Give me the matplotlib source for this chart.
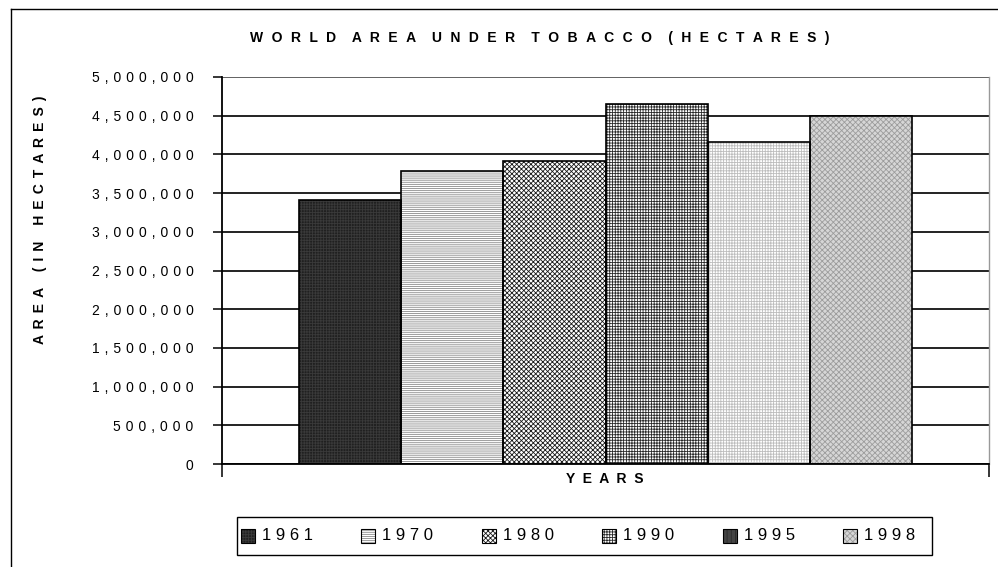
import matplotlib
matplotlib.use("Agg")
import matplotlib.pyplot as plt
from matplotlib.patches import Rectangle
from matplotlib.lines import Line2D

# ---- data -------------------------------------------------------------
years = ["1961", "1970", "1980", "1990", "1995", "1998"]
area_ha = [3410000, 3790000, 3920000, 4655000, 4165000, 4500000]
y_ticks = [0, 500000, 1000000, 1500000, 2000000, 2500000,
           3000000, 3500000, 4000000, 4500000, 5000000]
y_tick_labels = ["0", "500,000", "1,000,000", "1,500,000", "2,000,000",
                 "2,500,000", "3,000,000", "3,500,000", "4,000,000",
                 "4,500,000", "5,000,000"]
title = "WORLD AREA UNDER TOBACCO (HECTARES)"
y_label = "AREA (IN HECTARES)"
x_label = "YEARS"

# ---- styles: (face colour, hatch, hatch colour) ----------------------
bar_styles = [
    ("#202020", "++++++", "#3a3a3a"),
    ("#ffffff", "--------", "#8a8a8a"),
    ("#ffffff", "xxxxxxx", "#1a1a1a"),
    ("#ffffff", "++++++", "#2a2a2a"),
    ("#ffffff", "++++++", "#bdbdbd"),
    ("#d6d6d6", "xxxxxx", "#9c9c9c"),
]
legend_styles = list(bar_styles)
legend_styles[4] = ("#444444", "||||", "#2a2a2a")

FONT = ["Liberation Sans", "DejaVu Sans"]
plt.rcParams["font.family"] = FONT
plt.rcParams["hatch.linewidth"] = 0.6

W, H = 998, 567
fig = plt.figure(figsize=(W / 100, H / 100), dpi=100)


def fx(x):
    return x / W


def fy(y):
    return 1 - y / H


def spaced(s, gap=" ", word_gap=None):
    """Letter-space a string; words are separated by word_gap."""
    if word_gap is None:
        return gap.join(s)
    return word_gap.join(gap.join(word) for word in s.split(" "))


# letter-spacing gaps
TRACK = " \u2006"
TRACK_NUM = " \u200a"
TRACK_WIDE = " \u2004"

# ---- outer chart frame ------------------------------------------------
fig.add_artist(Line2D([fx(10.5), fx(10.5)], [fy(8.5), 0], color="black",
                      lw=1.0, transform=fig.transFigure))
fig.add_artist(Line2D([fx(10.5), 1], [fy(8.5), fy(8.5)], color="black",
                      lw=1.0, transform=fig.transFigure))

# ---- plot area --------------------------------------------------------
left, right, top, bottom = 222, 989, 77, 464
ax = fig.add_axes([fx(left), fy(bottom), (right - left) / W, (bottom - top) / H])

n = len(years)
group = 0.8005
w = group / n
for i, (v, (face, hatch, hcol)) in enumerate(zip(area_ha, bar_styles)):
    x = (i - (n - 1) / 2) * w
    ax.bar(x, v, width=w, color=face, hatch=hatch, edgecolor=hcol,
           linewidth=0, zorder=2)
    ax.bar(x, v, width=w, fill=False, edgecolor="black", linewidth=1.2,
           zorder=3)

ax.set_xlim(-0.5, 0.5)
ax.set_ylim(0, 5000000)
ax.set_yticks(y_ticks)
ax.set_yticklabels([spaced(t, TRACK_NUM) for t in y_tick_labels], fontsize=10)
ax.set_xticks([-0.5, 0.5])
ax.set_xticklabels(["", ""])
ax.tick_params(axis="y", direction="out", length=6.5, width=1.1, pad=14)
ax.tick_params(axis="x", direction="out", length=9.5, width=1.1)

ax.set_axisbelow(True)
ax.yaxis.grid(True, color="#111111", lw=1.3, zorder=1)
ax.get_ygridlines()[-1].set_color("#555555")
ax.spines["top"].set_visible(False)
ax.spines["right"].set_color("#999999")
ax.spines["right"].set_linewidth(1.0)
ax.spines["left"].set_linewidth(1.3)
ax.spines["bottom"].set_linewidth(1.3)

# ---- texts ------------------------------------------------------------
fig.text(fx(540), fy(38), spaced(title, TRACK_WIDE, TRACK_WIDE + "  "),
         ha="center", va="center", fontsize=10, fontweight="bold")
fig.text(fx(40), fy(220), spaced(y_label, TRACK), ha="center", va="center",
         rotation=90, fontsize=10, fontweight="bold")
fig.text(fx(605), fy(479), spaced(x_label, "  "), ha="center", va="center",
         fontsize=10, fontweight="bold")

# ---- legend -----------------------------------------------------------
fig.add_artist(Rectangle((fx(237), fy(555)), (932 - 237) / W, (555 - 517) / H,
                         transform=fig.transFigure, facecolor="white",
                         edgecolor="black", lw=1.0))
for i, (yr, (face, hatch, hcol)) in enumerate(zip(years, legend_styles)):
    xc = 248 + i * 120.4
    fig.add_artist(Rectangle((fx(xc - 7), fy(543)), 14 / W, 14 / H,
                             transform=fig.transFigure, facecolor=face,
                             hatch=hatch, edgecolor=hcol, lw=0))
    fig.add_artist(Rectangle((fx(xc - 7), fy(543)), 14 / W, 14 / H,
                             transform=fig.transFigure, fill=False,
                             edgecolor="black", lw=0.8))
    fig.text(fx(xc + 14), fy(536), spaced(yr), ha="left", va="center",
             fontsize=12)

fig.savefig("out.png", dpi=100)
